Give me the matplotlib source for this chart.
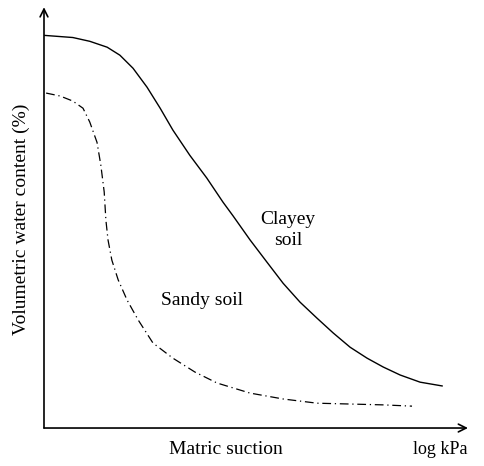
import matplotlib
matplotlib.use("Agg")
import matplotlib.pyplot as plt

# log suction (arbitrary units, 0..10) vs volumetric water content (0..100)
clay_x = [0.02, 0.68, 1.08, 1.49, 1.79, 2.10, 2.43, 2.74, 3.04, 3.44, 3.84,
          4.22, 4.46, 4.86, 5.26, 5.64, 6.04, 6.44, 6.82, 7.22, 7.62, 8.00,
          8.40, 8.87, 9.39]
clay_y = [93.3, 92.8, 91.9, 90.5, 88.6, 85.5, 81.0, 76.0, 70.8, 64.8, 59.4,
          53.7, 50.4, 44.7, 39.4, 34.4, 29.9, 26.1, 22.6, 19.2, 16.6, 14.5,
          12.6, 10.9, 10.0]

sand_x = [0.05, 0.38, 0.68, 0.92, 1.08, 1.25, 1.34, 1.42, 1.46, 1.51, 1.60,
          1.75, 1.96, 2.22, 2.57, 3.04, 3.56, 4.08, 4.86, 5.64, 6.44, 7.22,
          8.00, 8.68]
sand_y = [79.6, 78.9, 77.7, 76.0, 72.7, 67.9, 62.5, 56.1, 49.4, 44.7, 39.9,
          35.2, 30.4, 25.7, 20.2, 16.6, 13.3, 10.7, 8.3, 6.9, 5.9, 5.7,
          5.5, 5.2]

plt.rcParams['font.family'] = ['Liberation Serif', 'DejaVu Serif']

fig = plt.figure(figsize=(4.84, 4.66), dpi=100)
ax = fig.add_axes([0.0909, 0.0815, 0.876, 0.903])
ax.set_xlim(0, 10)
ax.set_ylim(0, 100)

ax.plot(clay_x, clay_y, color='black', linewidth=1.0, solid_joinstyle='round')
ax.plot(sand_x, sand_y, color='black', linewidth=0.9, linestyle=(0, (7, 3, 1, 3)))

ax.text(5.75, 47.0, "Clayey\nsoil", ha='center', va='center', fontsize=14,
        linespacing=1.3)
ax.text(2.76, 30.4, "Sandy soil", ha='left', va='center', fontsize=14)

# axes drawn as arrows
for s in ax.spines.values():
    s.set_visible(False)
ax.set_xticks([])
ax.set_yticks([])
arrow = dict(arrowstyle='->', color='black', linewidth=1.2, mutation_scale=14,
             shrinkA=0, shrinkB=0)
ax.annotate('', xy=(1.0, 0), xytext=(0, 0), xycoords='axes fraction',
            arrowprops=arrow, annotation_clip=False)
ax.annotate('', xy=(0, 1.0), xytext=(0, 0), xycoords='axes fraction',
            arrowprops=arrow, annotation_clip=False)

fig.text(226 / 484, 1 - 450 / 466, "Matric suction", ha='center', va='center',
         fontsize=14)
fig.text(440 / 484, 1 - 450 / 466, "log kPa", ha='center', va='center',
         fontsize=13)
fig.text(21 / 484, 1 - 219 / 466, "Volumetric water content (%)", ha='center',
         va='center', rotation=90, fontsize=14)

fig.savefig("out.png", dpi=100)
